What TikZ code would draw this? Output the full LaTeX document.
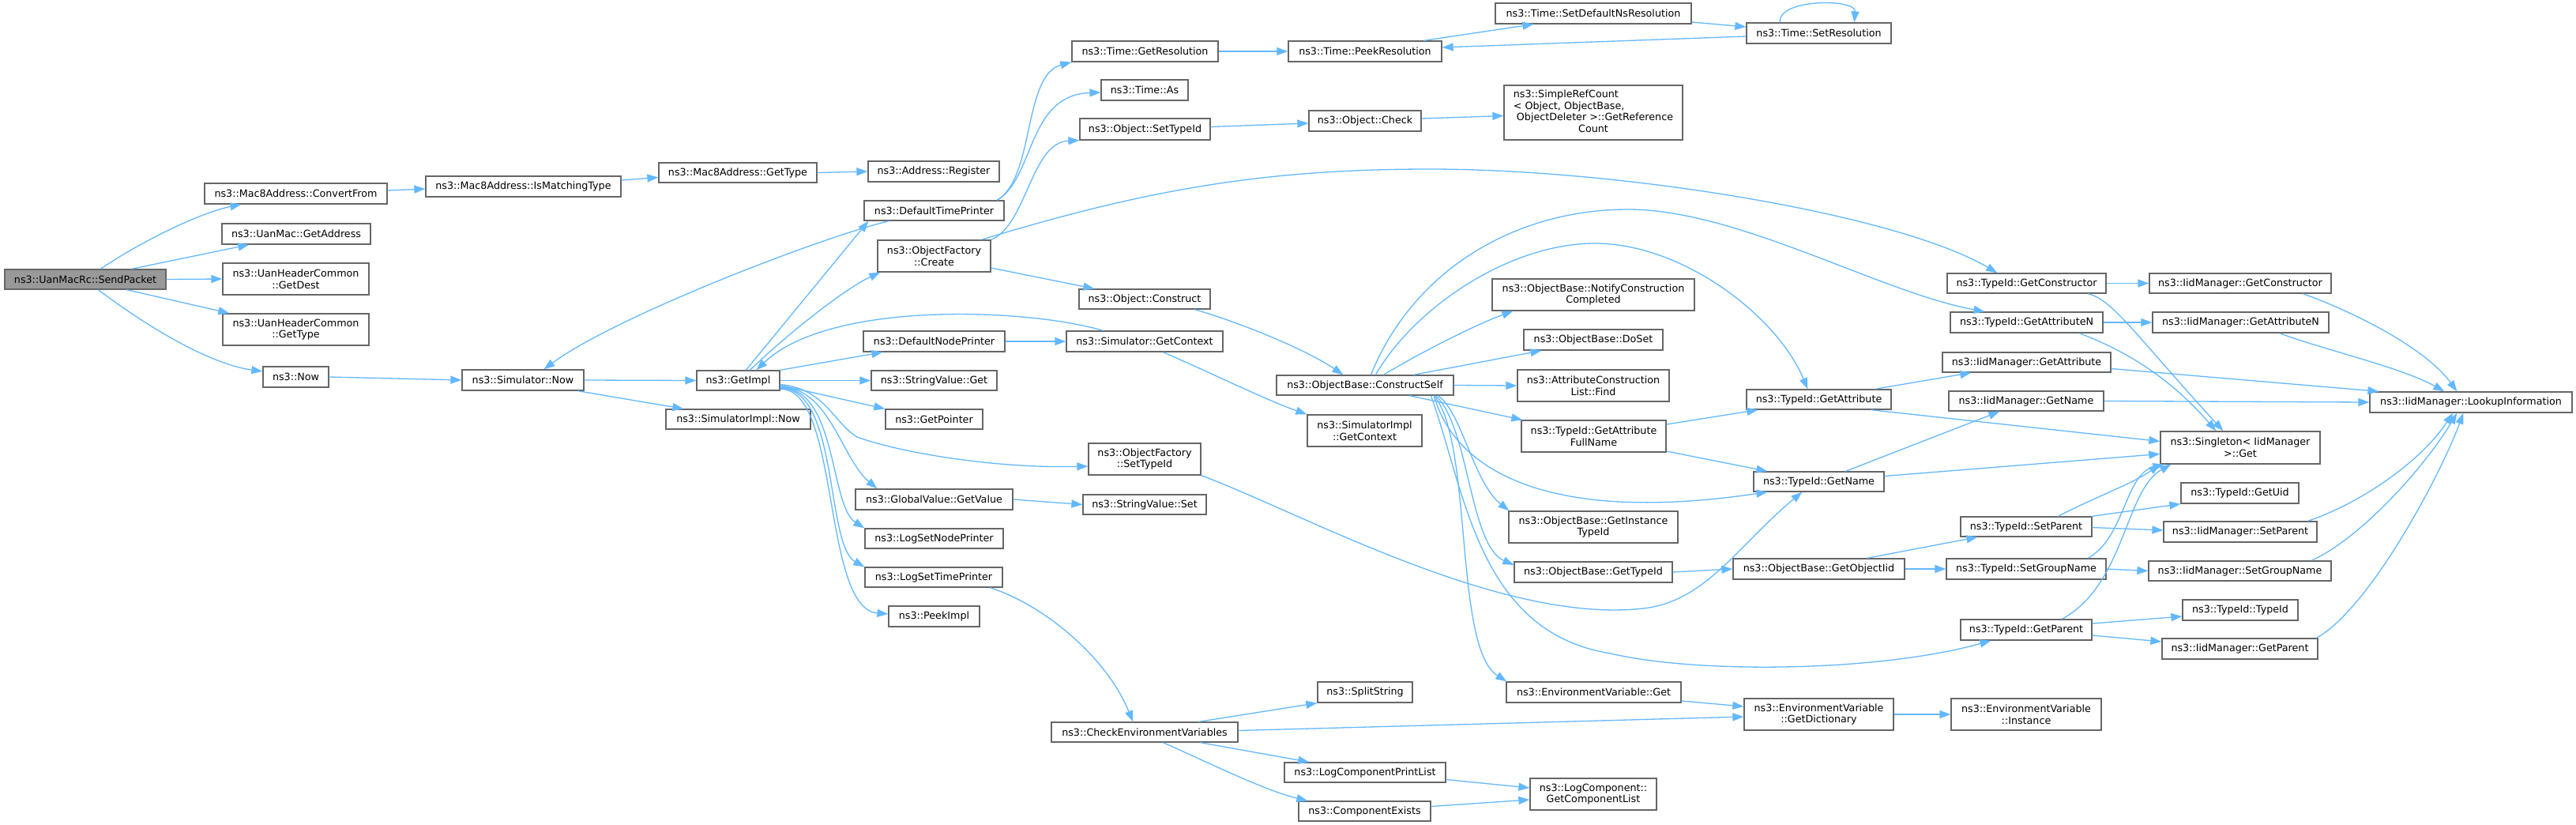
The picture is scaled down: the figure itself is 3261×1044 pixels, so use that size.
\documentclass[tikz,border=0pt]{standalone}
\usepackage{fontspec}
\setmainfont{DejaVu Sans}
\usetikzlibrary{arrows.meta}
\definecolor{edgec}{HTML}{63B8FF}
\definecolor{bordc}{HTML}{666666}
\definecolor{fillg}{HTML}{999999}
\tikzset{
  nbox/.style={draw=bordc, line width=1.3pt, fill=white, inner sep=0pt, align=center,
    font=\fontsize{12.7}{14.7}\selectfont},
  cn/.style={draw=edgec, line width=1.3pt, -{Triangle[length=14pt,width=10pt]}}
}
\newcommand\boxat[6]{\node[nbox,minimum width={#4-#2},minimum height={#5-#3}] (#1) at ({(#2+#4)/2},{(#3+#5)/2}) {#6};}
\begin{document}
\begin{tikzpicture}[x=1pt,y=-1pt]
\useasboundingbox (0,0) rectangle (3261,1044);
% nodes
\node[nbox,fill=fillg,minimum width=204,minimum height=25] (sp) at (108,353.5) {ns3::UanMacRc::SendPacket};
\boxat{cf}{259}{232}{490}{258}{ns3::Mac8Address::ConvertFrom}
\boxat{ga}{281}{283}{469}{309}{ns3::UanMac::GetAddress}
\boxat{gd}{282}{333}{467}{373}{ns3::UanHeaderCommon\\::GetDest}
\boxat{gt}{282}{397}{467}{437}{ns3::UanHeaderCommon\\::GetType}
\boxat{now}{333}{464}{416}{490}{ns3::Now}
\boxat{imt}{539}{223}{786}{249}{ns3::Mac8Address::IsMatchingType}
\boxat{mgt}{834}{206}{1034}{231}{ns3::Mac8Address::GetType}
\boxat{reg}{1099}{204}{1265}{230}{ns3::Address::Register}
\boxat{snow}{585}{468}{739}{494}{ns3::Simulator::Now}
\boxat{gi}{882}{469}{987}{494}{ns3::GetImpl}
\boxat{sinow}{843}{518}{1026}{543}{ns3::SimulatorImpl::Now}
\boxat{dtp}{1094}{254}{1271}{279}{ns3::DefaultTimePrinter}
\boxat{ofc}{1111}{304}{1254}{344}{ns3::ObjectFactory\\::Create}
\boxat{dnp}{1093}{419}{1272}{445}{ns3::DefaultNodePrinter}
\boxat{svg}{1103}{469}{1262}{494}{ns3::StringValue::Get}
\boxat{gp}{1121}{518}{1244}{543}{ns3::GetPointer}
\boxat{ofs}{1378}{561}{1520}{601}{ns3::ObjectFactory\\::SetTypeId}
\boxat{gv}{1083}{619}{1282}{645}{ns3::GlobalValue::GetValue}
\boxat{svs}{1371}{626}{1527}{651}{ns3::StringValue::Set}
\boxat{oc}{1366}{366}{1532}{391}{ns3::Object::Construct}
\boxat{sgc}{1350}{419}{1548}{445}{ns3::Simulator::GetContext}
\boxat{cs}{1616}{475}{1840}{500}{ns3::ObjectBase::ConstructSelf}
\boxat{sigc}{1655}{525}{1800}{565}{ns3::SimulatorImpl\\::GetContext}
\boxat{lsnp}{1095}{669}{1270}{694}{ns3::LogSetNodePrinter}
\boxat{lstp}{1095}{718}{1269}{743}{ns3::LogSetTimePrinter}
\boxat{pi}{1125}{767}{1240}{793}{ns3::PeekImpl}
\boxat{cev}{1331}{914}{1567}{939}{ns3::CheckEnvironmentVariables}
\boxat{ss}{1668}{863}{1788}{889}{ns3::SplitString}
\boxat{lcpl}{1626}{965}{1830}{990}{ns3::LogComponentPrintList}
\boxat{ce}{1644}{1014}{1811}{1039}{ns3::ComponentExists}
\boxat{tgr}{1357}{52}{1542}{78}{ns3::Time::GetResolution}
\boxat{tas}{1394}{101}{1504}{127}{ns3::Time::As}
\boxat{ost}{1367}{150}{1532}{177}{ns3::Object::SetTypeId}
\boxat{tpr}{1631}{52}{1825}{78}{ns3::Time::PeekResolution}
\boxat{och}{1657}{140}{1799}{166}{ns3::Object::Check}
\boxat{sdn}{1893}{4}{2141}{30}{ns3::Time::SetDefaultNsResolution}
\boxat{src}{1904}{108}{2130}{177}{\begin{tabular}{@{}l@{}}ns3::SimpleRefCount\\< Object, ObjectBase,\\\ ObjectDeleter >::GetReference\\\multicolumn{1}{@{}c@{}}{Count}\end{tabular}}
\boxat{tsr}{2211}{29}{2394}{55}{ns3::Time::SetResolution}
\boxat{ncc}{1889}{353}{2145}{393}{ns3::ObjectBase::NotifyConstruction\\Completed}
\boxat{dos}{1929}{417}{2105}{443}{ns3::ObjectBase::DoSet}
\boxat{acl}{1921}{468}{2113}{508}{ns3::AttributeConstruction\\List::Find}
\boxat{gafn}{1926}{532}{2109}{572}{ns3::TypeId::GetAttribute\\FullName}
\boxat{tga}{2211}{493}{2394}{518}{ns3::TypeId::GetAttribute}
\boxat{tgn}{2220}{597}{2385}{622}{ns3::TypeId::GetName}
\boxat{git}{1910}{647}{2124}{687}{ns3::ObjectBase::GetInstance\\TypeId}
\boxat{obt}{1917}{711}{2117}{737}{ns3::ObjectBase::GetTypeId}
\boxat{goi}{2194}{707}{2411}{733}{ns3::ObjectBase::GetObjectIid}
\boxat{evg}{1907}{863}{2128}{889}{ns3::EnvironmentVariable::Get}
\boxat{evd}{2208}{884}{2397}{924}{ns3::EnvironmentVariable\\::GetDictionary}
\boxat{gcl}{1937}{985}{2097}{1025}{ns3::LogComponent::\\GetComponentList}
\boxat{tgc}{2465}{346}{2666}{371}{ns3::TypeId::GetConstructor}
\boxat{igc}{2721}{346}{2951}{371}{ns3::IidManager::GetConstructor}
\boxat{tgan}{2469}{395}{2662}{421}{ns3::TypeId::GetAttributeN}
\boxat{igan}{2725}{395}{2948}{421}{ns3::IidManager::GetAttributeN}
\boxat{iga}{2459}{446}{2672}{471}{ns3::IidManager::GetAttribute}
\boxat{ign}{2467}{495}{2663}{520}{ns3::IidManager::GetName}
\boxat{li}{3000}{496}{3256}{522}{ns3::IidManager::LookupInformation}
\boxat{sg}{2735}{546}{2937}{587}{ns3::Singleton< IidManager\\ >::Get}
\boxat{uid}{2761}{611}{2910}{637}{ns3::TypeId::GetUid}
\boxat{tsp}{2482}{654}{2648}{679}{ns3::TypeId::SetParent}
\boxat{isp}{2739}{660}{2933}{686}{ns3::IidManager::SetParent}
\boxat{tsg}{2464}{707}{2666}{733}{ns3::TypeId::SetGroupName}
\boxat{isg}{2720}{710}{2951}{735}{ns3::IidManager::SetGroupName}
\boxat{tti}{2763}{759}{2909}{785}{ns3::TypeId::TypeId}
\boxat{tgp}{2482}{784}{2648}{810}{ns3::TypeId::GetParent}
\boxat{igp}{2737}{808}{2934}{834}{ns3::IidManager::GetParent}
\boxat{evi}{2470}{884}{2660}{924}{ns3::EnvironmentVariable\\::Instance}
% edges
\draw[cn] ([xshift=122pt]sp.north west) .. controls (175,308) and (250,270) .. ([xshift=47pt]cf.south west);
\draw[cn] ([xshift=161pt]sp.north west) -- ([xshift=35pt]ga.south west);
\draw[cn] (sp.east) -- (gd.west);
\draw[cn] ([xshift=155pt]sp.south west) -- ([xshift=9pt]gt.north west);
\draw[cn] ([xshift=119pt]sp.south west) .. controls (175,405) and (260,460) .. ([yshift=7pt]now.west);
\draw[cn] ([yshift=4pt]cf.east) -- ([yshift=-3pt]imt.west);
\draw[cn] ([yshift=8pt]imt.east) -- ([yshift=-6pt]mgt.west);
\draw[cn] (mgt.east) -- (reg.west);
\draw[cn] (now.east) -- (snow.west);
\draw[cn] (snow.east) -- (gi.west);
\draw[cn] ([xshift=147pt]snow.south west) -- ([xshift=23pt]sinow.north west);
\draw[cn] ([xshift=32pt]dtp.south west) .. controls (1040,300) and (780,400) .. ([xshift=104pt]snow.north west);
\draw[cn] ([xshift=63pt]gi.north west) -- ([xshift=6pt]dtp.south west);
\draw[cn] ([xshift=68pt]gi.north west) .. controls (1000,420) and (1070,365) .. ([xshift=4pt]ofc.south west);
\draw[cn] (gi.north east) -- ([xshift=25pt]dnp.south west);
\draw[cn] (gi.east) -- (svg.west);
\draw[cn] ([yshift=-6pt]gi.east) -- (gp.north west);
\draw[cn] ([xshift=47pt]sgc.north west) .. controls (1300,390) and (1050,380) .. ([xshift=76pt]gi.north west);
\draw[cn] ([yshift=-5pt]gi.east) .. controls (1045,492) and (1055,535) .. (1085,553) .. controls (1140,573) and (1260,593) .. ([yshift=-9pt]ofs.west);
\draw[cn] ([yshift=-8pt]gi.east) .. controls (1050,490) and (1065,580) .. ([xshift=28pt]gv.north west);
\draw[cn] ([yshift=-9pt]gi.east) .. controls (1060,490) and (1050,640) .. (lsnp.north west);
\draw[cn] ([yshift=-10pt]gi.east) .. controls (1062,490) and (1045,690) .. (lstp.north west);
\draw[cn] ([yshift=-11pt]gi.east) .. controls (1064,490) and (1040,770) .. ([yshift=3pt]pi.west);
\draw[cn] ([xshift=169pt]dtp.north west) .. controls (1310,225) and (1295,95) .. (tgr.south west);
\draw[cn] ([xshift=169pt]dtp.north west) .. controls (1310,225) and (1300,120) .. ([yshift=-3pt]tas.west);
\draw[cn] (ofc.north east) .. controls (1300,285) and (1305,180) .. (ost.south west);
\draw[cn] ([xshift=132pt]ofc.north west) .. controls (1450,240) and (1600,214) .. (1810,214) .. controls (2050,214) and (2400,270) .. ([xshift=64pt]tgc.north west);
\draw[cn] ([yshift=-15pt]ofc.east) -- ([xshift=20pt]oc.north west);
\draw[cn] ([xshift=147pt]oc.south west) .. controls (1560,405) and (1650,440) .. ([xshift=85pt]cs.north west);
\draw[cn] (dnp.east) -- (sgc.west);
\draw[cn] ([xshift=123pt]sgc.south west) .. controls (1540,475) and (1600,505) .. (sigc.north west);
\draw[cn] (gv.east) -- (svs.west);
\draw[cn] (ofs.south east) .. controls (1650,650) and (1900,790) .. (2080,770) .. controls (2160,761) and (2200,690) .. ([xshift=62pt]tgn.south west);
\draw[cn] ([xshift=159pt]lstp.south west) .. controls (1320,765) and (1400,830) .. ([xshift=104pt]cev.north west);
\draw[cn] ([xshift=187pt]cev.north west) -- (ss.south west);
\draw[cn] ([yshift=2pt]cev.east) -- ([yshift=-3pt]evd.west);
\draw[cn] ([xshift=189pt]cev.south west) -- ([xshift=32pt]lcpl.north west);
\draw[cn] ([xshift=142pt]cev.south west) .. controls (1530,965) and (1600,1000) .. ([xshift=12pt]ce.north west);
\draw[cn] ([yshift=-9pt]lcpl.east) -- ([yshift=8pt]gcl.west);
\draw[cn] ([yshift=6pt]ce.east) -- ([yshift=-7pt]gcl.west);
\draw[cn] ([yshift=-11pt]evg.east) -- ([yshift=10pt]evd.west);
\draw[cn] (evd.east) -- (evi.west);
\draw[cn] (tgr.east) -- (tpr.west);
\draw[cn] ([xshift=172pt]tpr.north west) -- ([xshift=49pt]sdn.south west);
\draw[cn] ([yshift=-11pt]sdn.east) -- ([yshift=8pt]tsr.west);
\draw[cn] ([yshift=-4pt]tsr.west) -- ([yshift=5pt]tpr.east);
\draw[cn] ([xshift=43pt]tsr.north west) .. controls (2250,-2) and (2350,-2) .. ([xshift=137pt]tsr.north west);
\draw[cn] ([yshift=3pt]ost.east) -- ([yshift=-3pt]och.west);
\draw[cn] ([yshift=3pt]och.east) -- ([yshift=-4pt]src.west);
\draw[cn] ([xshift=136pt]cs.north west) .. controls (1800,445) and (1870,410) .. ([xshift=27pt]ncc.south west);
\draw[cn] ([xshift=174pt]cs.north west) -- ([xshift=23pt]dos.south west);
\draw[cn] (cs.east) -- (acl.west);
\draw[cn] ([xshift=169pt]cs.south west) -- ([xshift=2pt]gafn.north west);
\draw[cn] ([xshift=126pt]cs.north west) .. controls (1790,390) and (1910,308) .. (2019,308) .. controls (2130,308) and (2250,400) .. ([xshift=78pt]tga.north west);
\draw[cn] ([xshift=120pt]cs.north west) .. controls (1790,340) and (1920,265) .. (2061,265) .. controls (2200,265) and (2380,370) .. ([xshift=44pt]tgan.north west);
\draw[cn] ([xshift=200pt]cs.south west) .. controls (1840,590) and (1950,665) .. ([xshift=18pt]tgn.south west);
\draw[cn] ([xshift=205pt]cs.south west) .. controls (1850,520) and (1865,610) .. ([xshift=1pt]git.north west);
\draw[cn] ([xshift=202pt]cs.south west) .. controls (1860,540) and (1860,690) .. ([yshift=9pt]obt.west);
\draw[cn] ([xshift=200pt]cs.south west) .. controls (1865,560) and (1840,820) .. ([xshift=1pt]evg.north west);
\draw[cn] ([xshift=196pt]cs.south west) .. controls (1855,620) and (1870,800) .. (2039,827) .. controls (2150,853) and (2380,850) .. ([xshift=39pt]tgp.south west);
\draw[cn] ([yshift=15pt]gafn.east) -- ([xshift=15pt]tga.south west);
\draw[cn] ([yshift=-19pt]gafn.east) -- ([xshift=18pt]tgn.north west);
\draw[cn] ([xshift=163pt]tga.north west) -- ([xshift=37pt]iga.south west);
\draw[cn] ([xshift=158pt]tga.south west) -- ([yshift=8pt]sg.west);
\draw[cn] ([xshift=117pt]tgn.north west) -- ([xshift=65pt]ign.south west);
\draw[cn] ([yshift=7pt]tgn.east) -- ([yshift=-8pt]sg.west);
\draw[cn] (tgc.east) -- (igc.west);
\draw[cn] ([xshift=179pt]tgc.south west) .. controls (2675,380) and (2700,420) .. ([xshift=80pt]sg.north west);
\draw[cn] (tgan.east) -- (igan.west);
\draw[cn] ([xshift=164pt]tgan.south west) .. controls (2680,440) and (2740,470) .. ([xshift=71pt]sg.north west);
\draw[cn] ([xshift=195pt]igc.south west) .. controls (2980,395) and (3070,440) .. ([xshift=111pt]li.north west);
\draw[cn] ([xshift=161pt]igan.south west) .. controls (2950,445) and (3040,465) .. ([xshift=95pt]li.north west);
\draw[cn] ([yshift=-8pt]iga.east) -- ([xshift=12pt]li.north west);
\draw[cn] (ign.east) -- (li.west);
\draw[cn] (obt.east) -- (goi.west);
\draw[cn] ([xshift=170pt]goi.north west) -- ([xshift=22pt]tsp.south west);
\draw[cn] (goi.east) -- (tsg.west);
\draw[cn] ([xshift=124pt]tsp.north west) .. controls (2650,630) and (2700,612) .. (sg.south west);
\draw[cn] ([xshift=-1pt]tsp.north east) -- (uid.south west);
\draw[cn] ([yshift=-1pt]tsp.east) -- ([yshift=2pt]isp.west);
\draw[cn] ([xshift=180pt]tsg.north west) .. controls (2690,680) and (2690,600) .. ([xshift=5pt]sg.south west);
\draw[cn] (tsg.east) -- (isg.west);
\draw[cn] ([xshift=129pt]tgp.north west) .. controls (2690,740) and (2690,620) .. ([xshift=14pt]sg.south west);
\draw[cn] ([yshift=8pt]tgp.east) -- ([yshift=-8pt]tti.west);
\draw[cn] ([yshift=-7pt]tgp.east) -- ([yshift=9pt]igp.west);
\draw[cn] ([xshift=183pt]isp.north west) .. controls (2980,640) and (3060,590) .. ([xshift=106pt]li.south west);
\draw[cn] ([xshift=207pt]isg.north west) .. controls (2990,680) and (3070,590) .. ([xshift=111pt]li.south west);
\draw[cn] ([xshift=196pt]igp.north west) .. controls (3000,770) and (3090,600) .. ([xshift=119pt]li.south west);
\end{tikzpicture}
\end{document}
